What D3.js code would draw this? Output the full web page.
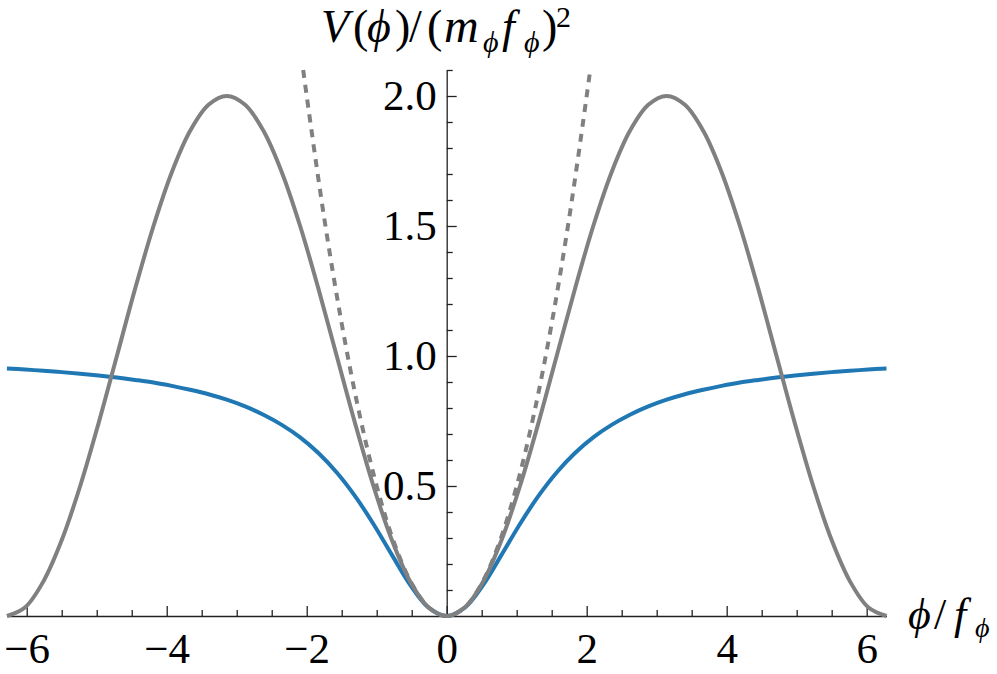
<!DOCTYPE html>
<html>
<head>
<meta charset="utf-8">
<script src="https://cdn.jsdelivr.net/npm/d3@7/dist/d3.min.js"></script>
<style>
body { margin: 0; background: #fff; }
svg { display: block; }
.axis path, .axis line { stroke: #222; stroke-width: 1.3; }
.axis text { font-family: "Liberation Serif", "Times New Roman", serif; font-size: 43px; fill: #000; }
.lbl { font-family: "Liberation Serif", "DejaVu Serif", serif; fill: #000; }
</style>
</head>
<body>
<svg width="997" height="674"></svg>
<script>
// sample points (phi in steps of pi/12)
var phi = [-6.283, -6.021, -5.760, -5.498, -5.236, -4.974, -4.712, -4.451, -4.189, -3.927, -3.665, -3.403,
           -3.142, -2.880, -2.618, -2.356, -2.094, -1.833, -1.571, -1.309, -1.047, -0.785, -0.524, -0.262,
           0, 0.262, 0.524, 0.785, 1.047, 1.309, 1.571, 1.833, 2.094, 2.356, 2.618, 2.880,
           3.142, 3.403, 3.665, 3.927, 4.189, 4.451, 4.712, 4.974, 5.236, 5.498, 5.760, 6.021, 6.283];
var cosineV = [0, 0.034, 0.134, 0.293, 0.5, 0.741, 1, 1.259, 1.5, 1.707, 1.866, 1.966,
               2, 1.966, 1.866, 1.707, 1.5, 1.259, 1, 0.741, 0.5, 0.293, 0.134, 0.034,
               0, 0.034, 0.134, 0.293, 0.5, 0.741, 1, 1.259, 1.5, 1.707, 1.866, 1.966,
               2, 1.966, 1.866, 1.707, 1.5, 1.259, 1, 0.741, 0.5, 0.293, 0.134, 0.034, 0];
var plateauV = [0.952, 0.948, 0.943, 0.938, 0.932, 0.925, 0.917, 0.908, 0.898, 0.885, 0.870, 0.853,
                0.832, 0.806, 0.774, 0.735, 0.687, 0.627, 0.552, 0.461, 0.354, 0.236, 0.121, 0.033,
                0, 0.033, 0.121, 0.236, 0.354, 0.461, 0.552, 0.627, 0.687, 0.735, 0.774, 0.806,
                0.832, 0.853, 0.870, 0.885, 0.898, 0.908, 0.917, 0.925, 0.932, 0.938, 0.943, 0.948, 0.952];
var phiQuad = [-2.05, -2, -1.75, -1.5, -1.25, -1, -0.75, -0.5, -0.25, 0, 0.25, 0.5, 0.75, 1, 1.25, 1.5, 1.75, 2, 2.05];
var quadV = [2.10, 2.0, 1.531, 1.125, 0.781, 0.5, 0.281, 0.125, 0.031, 0, 0.031, 0.125, 0.281, 0.5, 0.781, 1.125, 1.531, 2.0, 2.10];

var xMajor = [-6, -4, -2, 0, 2, 4, 6];
var xMinor = [-5.5, -5, -4.5, -3.5, -3, -2.5, -1.5, -1, -0.5, 0.5, 1, 1.5, 2.5, 3, 3.5, 4.5, 5, 5.5];
var yMajor = [0.5, 1.0, 1.5, 2.0];
var yMinor = [0.1, 0.2, 0.3, 0.4, 0.6, 0.7, 0.8, 0.9, 1.1, 1.2, 1.3, 1.4, 1.6, 1.7, 1.8, 1.9, 2.1];

var svg = d3.select('svg');
var x = d3.scaleLinear().domain([-2 * Math.PI, 2 * Math.PI]).range([6.9, 886.5]);
var y = d3.scaleLinear().domain([0, 2.1]).range([616, 70]);
var x0 = x(0);

// axes
var gx = svg.append('g').attr('class', 'axis').attr('transform', 'translate(0,' + y(0) + ')');
gx.call(d3.axisBottom(x).tickValues(xMajor).tickSize(-10).tickSizeOuter(0).tickPadding(16)
	.tickFormat(function(d){ return d < 0 ? '\u2212' + (-d) : d; }));
gx.append('g').call(d3.axisBottom(x).tickValues(xMinor).tickSize(-6).tickSizeOuter(0).tickFormat(''))
	.select('.domain').remove();
gx.selectAll('text').attr('fill', '#000');

var gy = svg.append('g').attr('class', 'axis').attr('transform', 'translate(' + x0 + ',0)');
gy.call(d3.axisLeft(y).tickValues(yMajor).tickSize(-10).tickSizeOuter(0).tickPadding(10)
	.tickFormat(d3.format('.1f')));
gy.append('g').call(d3.axisLeft(y).tickValues(yMinor).tickSize(-6).tickSizeOuter(0).tickFormat(''))
	.select('.domain').remove();
gy.selectAll('text').attr('fill', '#000');

// curves
var line = d3.line().curve(d3.curveCatmullRom.alpha(0.5));
function pts(xs, ys){ return xs.map(function(v, i){ return [x(v), y(ys[i])]; }); }

svg.append('path').attr('d', line(pts(phi, plateauV)))
	.attr('fill', 'none').attr('stroke', '#1f77b4').attr('stroke-width', 4);
svg.append('path').attr('d', line(pts(phi, cosineV)))
	.attr('fill', 'none').attr('stroke', '#808080').attr('stroke-width', 4);
svg.append('path').attr('d', line(pts(phiQuad, quadV)))
	.attr('fill', 'none').attr('stroke', '#808080').attr('stroke-width', 4)
	.attr('stroke-dasharray', '8,7');

// labels, each glyph placed like the typeset math
function piece(g, px, py, txt, size, italic){
	return g.append('text').attr('class', 'lbl').attr('x', px).attr('y', py).attr('font-size', size)
		.attr('font-style', italic ? 'italic' : 'normal').text(txt);
}
var t = svg.append('g');
piece(t, 321, 42, 'V', 46, true);
piece(t, 353, 42, '(', 46, false);
piece(t, 367, 42, '\u03d5', 46, true);
piece(t, 395, 42, ')', 46, false);
piece(t, 409, 42, '/', 46, false);
piece(t, 427, 42, '(', 46, false);
piece(t, 444, 42, 'm', 48, true);
piece(t, 483, 52, '\u03d5', 30, true);
piece(t, 502, 42, 'f', 46, true);
piece(t, 524, 52, '\u03d5', 30, true);
piece(t, 542, 42, ')', 46, false);
piece(t, 556, 27, '2', 30, false);

var a = svg.append('g');
piece(a, 908, 629, '\u03d5', 44, true);
piece(a, 934, 629, '/', 44, false);
piece(a, 954, 629, 'f', 44, true);
piece(a, 975, 637, '\u03d5', 28, true);
</script>
</body>
</html>
